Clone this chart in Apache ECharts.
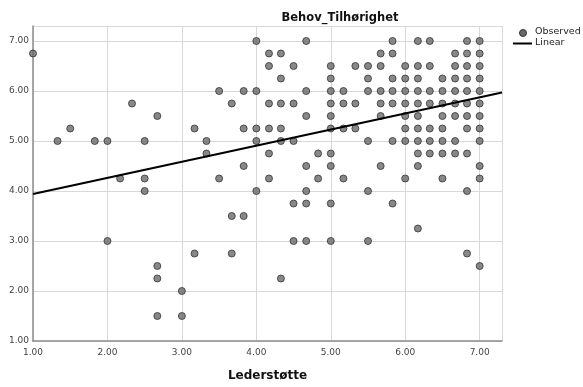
<!DOCTYPE html>
<html>
<head>
<meta charset="utf-8">
<script src="https://cdn.jsdelivr.net/npm/echarts@6/dist/echarts.min.js"></script>
<style>
  html, body { margin: 0; padding: 0; background: #fff; }
  #chart { width: 583px; height: 387px; }
</style>
</head>
<body>
<div id="chart"></div>
<script>
// Observed cases: [Lederstøtte, Behov_Tilhørighet]
const observed = [
  [1.00, 6.75], [1.33, 5.00], [1.50, 5.25], [1.83, 5.00],
  [2.00, 5.00], [2.00, 3.00], [2.17, 4.25], [2.33, 5.75],
  [2.50, 5.00], [2.50, 4.25], [2.50, 4.00],
  [2.67, 5.50], [2.67, 2.50], [2.67, 2.25], [2.67, 1.50],
  [3.00, 2.00], [3.00, 1.50], [3.17, 5.25], [3.17, 2.75],
  [3.33, 5.00], [3.33, 4.75], [3.50, 6.00], [3.50, 4.25],
  [3.67, 5.75], [3.67, 3.50], [3.67, 2.75],
  [3.83, 6.00], [3.83, 5.25], [3.83, 4.50], [3.83, 3.50],
  [4.00, 7.00], [4.00, 6.00], [4.00, 5.25], [4.00, 5.00], [4.00, 4.00],
  [4.17, 6.75], [4.17, 6.50], [4.17, 5.75], [4.17, 5.25], [4.17, 4.75], [4.17, 4.25],
  [4.33, 6.75], [4.33, 6.25], [4.33, 5.75], [4.33, 5.25], [4.33, 5.00], [4.33, 2.25],
  [4.50, 6.50], [4.50, 5.75], [4.50, 5.00], [4.50, 3.75], [4.50, 3.00],
  [4.67, 7.00], [4.67, 6.00], [4.67, 5.50], [4.67, 4.50], [4.67, 4.00], [4.67, 3.75], [4.67, 3.00],
  [4.83, 4.75], [4.83, 4.25],
  [5.00, 6.50], [5.00, 6.25], [5.00, 6.00], [5.00, 5.75], [5.00, 5.50],
  [5.00, 5.25], [5.00, 4.75], [5.00, 4.50], [5.00, 3.75], [5.00, 3.00],
  [5.17, 6.00], [5.17, 5.75], [5.17, 5.25], [5.17, 4.25],
  [5.33, 6.50], [5.33, 5.75], [5.33, 5.25],
  [5.50, 6.50], [5.50, 6.25], [5.50, 6.00], [5.50, 5.00], [5.50, 4.00], [5.50, 3.00],
  [5.67, 6.75], [5.67, 6.50], [5.67, 6.00], [5.67, 5.75], [5.67, 5.50], [5.67, 4.50],
  [5.83, 7.00], [5.83, 6.75], [5.83, 6.25], [5.83, 6.00], [5.83, 5.75], [5.83, 5.00], [5.83, 3.75],
  [6.00, 6.50], [6.00, 6.25], [6.00, 6.00], [6.00, 5.75], [6.00, 5.50], [6.00, 5.25], [6.00, 5.00], [6.00, 4.25],
  [6.17, 7.00], [6.17, 6.50], [6.17, 6.25], [6.17, 6.00], [6.17, 5.75], [6.17, 5.50],
  [6.17, 5.25], [6.17, 5.00], [6.17, 4.75], [6.17, 4.50], [6.17, 3.25],
  [6.33, 7.00], [6.33, 6.50], [6.33, 6.00], [6.33, 5.75], [6.33, 5.25], [6.33, 5.00], [6.33, 4.75],
  [6.50, 6.25], [6.50, 6.00], [6.50, 5.75], [6.50, 5.50], [6.50, 5.25], [6.50, 5.00], [6.50, 4.75], [6.50, 4.25],
  [6.67, 6.75], [6.67, 6.50], [6.67, 6.25], [6.67, 6.00], [6.67, 5.75], [6.67, 5.50], [6.67, 5.00], [6.67, 4.75],
  [6.83, 7.00], [6.83, 6.75], [6.83, 6.50], [6.83, 6.25], [6.83, 6.00], [6.83, 5.75],
  [6.83, 5.50], [6.83, 5.25], [6.83, 4.75], [6.83, 4.00], [6.83, 2.75],
  [7.00, 7.00], [7.00, 6.75], [7.00, 6.50], [7.00, 6.25], [7.00, 6.00], [7.00, 5.75],
  [7.00, 5.50], [7.00, 5.25], [7.00, 5.00], [7.00, 4.50], [7.00, 4.25], [7.00, 2.50]
];

// Linear fit line, drawn across the full x range
const fitX = [1.00, 7.30];
const fitY = [3.94, 5.97];

const xTicks = [1, 2, 3, 4, 5, 6, 7];
const yTicks = [1, 2, 3, 4, 5, 6, 7];
const legendNames = ['Observed', 'Linear'];

const chart = echarts.init(document.getElementById('chart'));
const font = 'DejaVu Sans';
const tickLabel = v => (xTicks.indexOf(v) >= 0 ? v.toFixed(2) : '');

chart.setOption({
  animation: false,
  backgroundColor: '#ffffff',
  title: {
    text: 'Behov_Tilhørighet',
    left: 335,
    top: 7,
    textAlign: 'center',
    textStyle: { fontFamily: font, fontSize: 11.5, fontWeight: 'bold', color: '#111' }
  },
  // Legend: marker swatch, line swatch and their labels
  graphic: [
    { type: 'circle', left: 519, top: 29, shape: { r: 3.5 },
      style: { fill: '#6a6a6a', stroke: '#333', lineWidth: 1 } },
    { type: 'text', left: 535, top: 27,
      style: { text: legendNames[0], font: '9.5px "DejaVu Sans"', fill: '#222' } },
    { type: 'rect', left: 513, top: 42.5, shape: { width: 19, height: 2 },
      style: { fill: '#000' } },
    { type: 'text', left: 535, top: 38,
      style: { text: legendNames[1], font: '9.5px "DejaVu Sans"', fill: '#222' } }
  ],
  grid: { left: 33, right: 81, top: 26, bottom: 42 },
  xAxis: {
    type: 'value',
    min: xTicks[0],
    max: 7.3,
    interval: 1,
    name: 'Lederstøtte',
    nameLocation: 'middle',
    nameGap: 29,
    nameTextStyle: { fontFamily: font, fontSize: 12, fontWeight: 'bold', color: '#111' },
    axisLine: { lineStyle: { color: '#8c8c8c', width: 1.5 } },
    axisTick: { show: false },
    splitLine: { show: true, lineStyle: { color: '#d8d8d8', width: 1 } },
    axisLabel: {
      fontFamily: font, fontSize: 9, color: '#444', margin: 7,
      showMaxLabel: false, formatter: tickLabel
    }
  },
  yAxis: {
    type: 'value',
    min: yTicks[0],
    max: 7.3,
    interval: 1,
    axisLine: { show: true, lineStyle: { color: '#8c8c8c', width: 1.5 } },
    axisTick: { show: false },
    splitLine: { show: true, lineStyle: { color: '#d8d8d8', width: 1 } },
    axisLabel: {
      fontFamily: font, fontSize: 9, color: '#444', margin: 4,
      showMaxLabel: false, formatter: tickLabel
    }
  },
  series: [
    {
      name: 'Observed',
      type: 'scatter',
      data: observed,
      symbol: 'circle',
      symbolSize: 7,
      itemStyle: { color: '#6a6a6a', borderColor: '#333333', borderWidth: 1 },
      z: 3
    },
    {
      name: 'Linear',
      type: 'line',
      data: fitX.map((x, i) => [x, fitY[i]]),
      symbol: 'none',
      lineStyle: { color: '#000000', width: 2 },
      z: 4
    }
  ]
});
</script>
</body>
</html>
